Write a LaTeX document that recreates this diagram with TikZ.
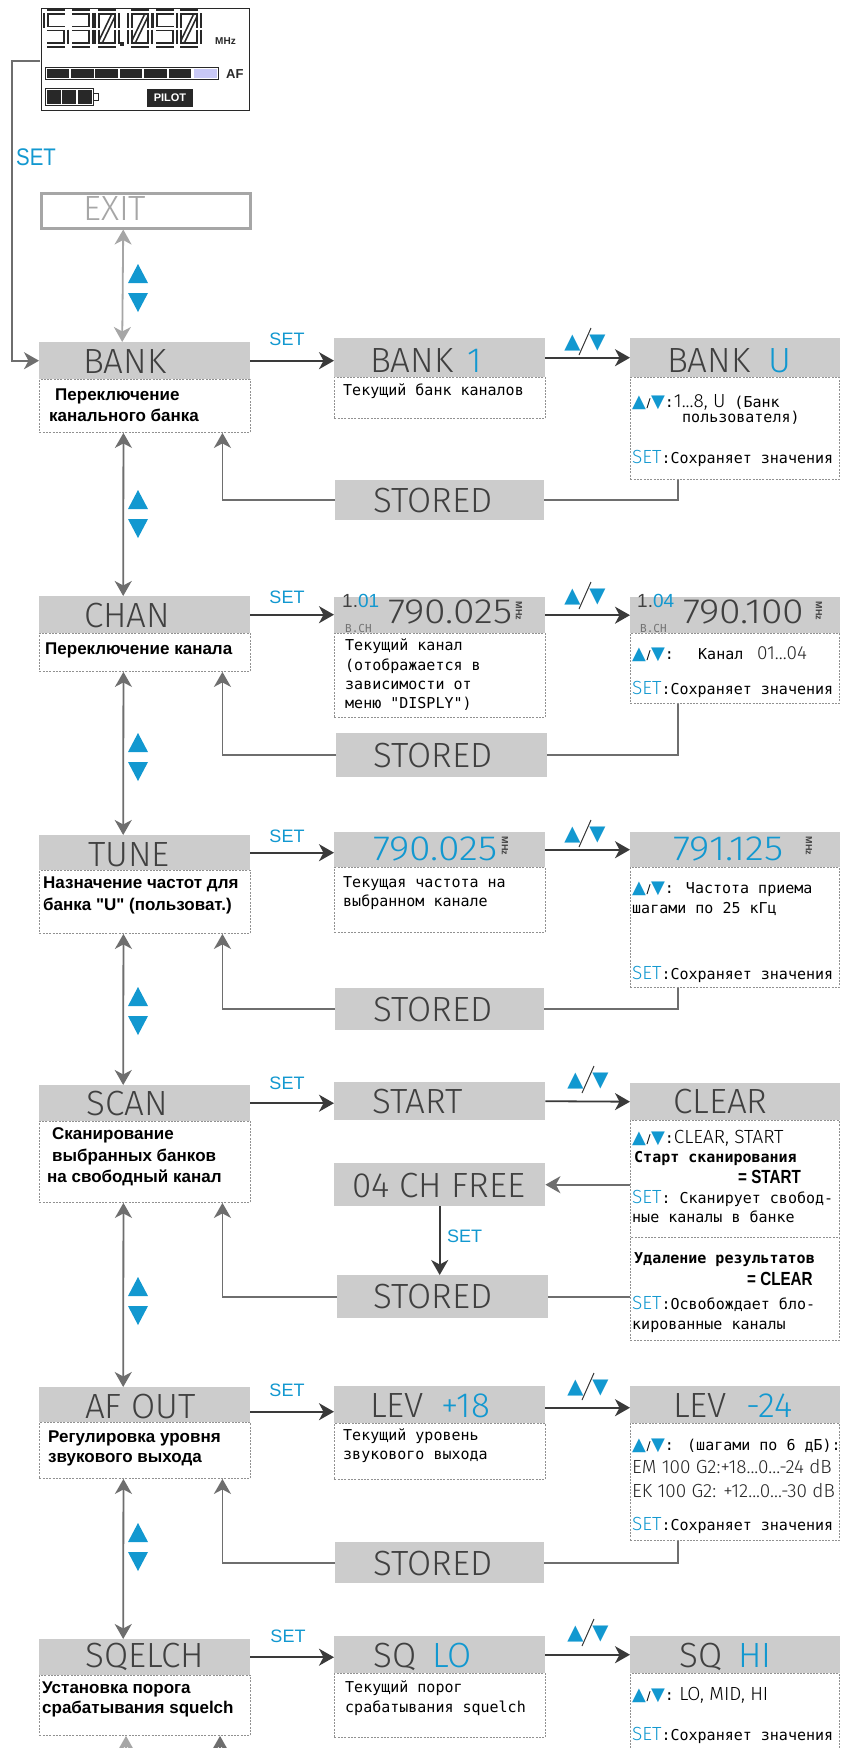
\documentclass[tikz,border=0pt]{standalone}
\usepackage{fontspec}
\setmainfont{Liberation Sans}[Ligatures=TeXOff]
\newfontfamily\mono{DejaVu Sans Mono}
\newfontfamily\dv{DejaVu Sans}
\IfFontExistsTF{FiraSans-Light.otf}{\newfontfamily\hfont{FiraSans-Light.otf}}{%
 \IfFontExistsTF{Fira Sans Light}{\newfontfamily\hfont{Fira Sans Light}}{\newfontfamily\hfont{Fira Sans}}}
\usetikzlibrary{arrows.meta}
\definecolor{hdrgray}{RGB}{204,204,204}
\definecolor{htext}{RGB}{64,64,64}
\definecolor{myblue}{RGB}{18,152,208}
\definecolor{arrgray}{RGB}{110,110,110}
\definecolor{arrdark}{RGB}{58,58,58}
\definecolor{dashgray}{RGB}{145,145,145}
\definecolor{exitgray}{RGB}{166,166,166}
\definecolor{lcdc}{RGB}{40,40,40}
\definecolor{lav}{RGB}{200,200,245}
\newcommand\UD{{\dv\fontsize{18}{18}\selectfont\textcolor{myblue}{▲}\kern0.5pt{\fontsize{12}{12}\selectfont/}\kern0.5pt\textcolor{myblue}{▼}}}
\newcommand\SETb{\textcolor{myblue}{\hfont\fontsize{19}{19}\selectfont SET}}
\newcommand\wnum[1]{\scalebox{1.12}[1]{#1}}
\newcommand\sga{\draw[seg] (1,0)--(19,0);}
\newcommand\sgb{\draw[seg] (20,1)--(20,15.5);}
\newcommand\sgc{\draw[seg] (20,17.5)--(20,32);}
\newcommand\sgd{\draw[seg] (1,33)--(19,33);}
\newcommand\sge{\draw[seg] (0,17.5)--(0,32);}
\newcommand\sgf{\draw[seg] (0,1)--(0,15.5);}
\newcommand\sgg{\draw[seg] (1,16.5)--(19,16.5);}
\newcommand\sgs{\draw[seg] (4,29)--(16,4);}
\newcommand\lcddigit[2]{\begin{scope}[shift={(#1,12)}]\foreach \s in {#2}{\csname sg\s\endcsname}\end{scope}}
\tikzset{
  >={Stealth[length=15pt,width=17pt,inset=4.5pt]},
  seg/.style={draw=lcdc, line width=1.7pt, double=white, double distance=2.2pt},
  hbox/.style={fill=hdrgray, draw=none, inner sep=0pt, anchor=north west},
  dbox/.style={draw=dashgray, dash pattern=on 2pt off 1.3pt, line width=0.9pt, fill=white, inner sep=0pt, anchor=north west},
  htxt/.style={font=\hfont\fontsize{35}{35}\selectfont, text=htext, inner sep=0pt, anchor=base west},
  ltxt/.style={font=\bfseries\fontsize{17}{17}\selectfont, text=black, inner sep=0pt, anchor=base west},
  mtxt/.style={font=\mono\fontsize{15}{15}\selectfont, text=black, inner sep=0pt, anchor=base west},
  mbtxt/.style={font=\mono\bfseries\fontsize{15}{15}\selectfont, text=black, inner sep=0pt, anchor=base west},
  ttxt/.style={font=\hfont\fontsize{19}{19}\selectfont, text=black!85, inner sep=0pt, anchor=base west},
  setlbl/.style={font=\fontsize{18}{18}\selectfont, text=myblue, inner sep=0pt, anchor=base},
  udlbl/.style={font=\dv\fontsize{21}{21}\selectfont, text=myblue, inner sep=0pt},
  mhzlbl/.style={font=\bfseries\fontsize{9}{9}\selectfont, text=htext, rotate=-90, inner sep=0pt},
  darr/.style={draw=arrdark, line width=1.8pt, ->},
  garr/.style={draw=arrgray, line width=1.8pt, ->},
  garr2/.style={draw=arrgray, line width=1.8pt, <->},
  gline/.style={draw=arrgray, line width=1.8pt},
  lgarr/.style={draw=exitgray, line width=1.8pt},
}
\begin{document}
\begin{tikzpicture}[x=1pt,y=-1pt]
\useasboundingbox (0,0) rectangle (841,1748);
\clip (0,0) rectangle (841,1748);
\fill[white] (0,0) rectangle (841,1748);

% ---------- LCD ----------
\node[draw=lcdc, line width=1.5pt, inner sep=0pt, minimum width=208pt, minimum height=102pt, anchor=north west] (lcd) at (40.75,7.75) {};
\lcddigit{46}{a,f,g,c,d}
\lcddigit{71}{a,b,g,c,d}
\lcddigit{97}{a,b,c,d,e,f,s}
\lcddigit{130}{a,b,c,d,e,f,s}
\lcddigit{155}{a,f,g,c,d}
\lcddigit{179}{a,b,c,d,e,f,s}
\fill[lcdc] (119.5,42) rectangle (123.5,46);
\node[font=\bfseries\fontsize{10}{10}\selectfont, anchor=base west, inner sep=0pt, text=lcdc] (mhz) at (215,44) {MHz};
\draw[lcdc, line width=1pt] (45,67) rectangle (218,79);
\foreach \i in {0,...,5} \fill[lcdc] ({46.5+24.4*\i},68.5) rectangle ({46.5+24.4*\i+22.6},77.5);
\fill[lav] (193.5,68.5) rectangle (216.5,77.5);
\node[font=\bfseries\fontsize{13}{13}\selectfont, anchor=base west, inner sep=0pt, text=lcdc] (afl) at (226,78) {AF};
\draw[lcdc, line width=1pt] (45,88) rectangle (93,105);
\foreach \i in {0,1,2} \fill[lcdc] ({46.5+15.7*\i},89.5) rectangle ({46.5+15.7*\i+14.2},103.5);
\draw[lcdc, line width=1pt] (93,93) rectangle (98,100);
\node[fill=lcdc, text=white, font=\bfseries\fontsize{11}{11}\selectfont, minimum width=46pt, minimum height=18pt, inner sep=0pt] (pilot) at (170,98) {PILOT};

\node[font=\fontsize{24}{24}\selectfont, text=myblue, anchor=base west, inner sep=0pt] (setbig) at (16,165) {\scalebox{0.85}[1]{SET}};

% ---------- EXIT ----------
\node[draw=exitgray, line width=2.5pt, fill=white, minimum width=209pt, minimum height=35pt, inner sep=0pt, anchor=north west] (exit) at (40,192) {};
\node[htxt, text=exitgray] (texit) at (83,220) {EXIT};

% ---------- boxes: left column ----------
\node[dbox, minimum width=211pt, minimum height=53pt] (bankD) at (39,379) {};
\node[hbox, minimum width=211pt, minimum height=37pt] (bankH) at (39,342) {};
\node[dbox, minimum width=211pt, minimum height=38pt] (chanD) at (39,633) {};
\node[hbox, minimum width=211pt, minimum height=37pt] (chanH) at (39,596) {};
\node[dbox, minimum width=211pt, minimum height=63pt] (tuneD) at (39,870) {};
\node[hbox, minimum width=211pt, minimum height=35pt] (tuneH) at (39,835) {};
\node[dbox, minimum width=211pt, minimum height=81pt] (scanD) at (39,1121) {};
\node[hbox, minimum width=211pt, minimum height=36pt] (scanH) at (39,1085) {};
\node[dbox, minimum width=211pt, minimum height=56pt] (afD) at (39,1422) {};
\node[hbox, minimum width=211pt, minimum height=35pt] (afH) at (39,1387) {};
\node[dbox, minimum width=211pt, minimum height=60pt] (sqD) at (39,1675) {};
\node[hbox, minimum width=211pt, minimum height=36pt] (sqH) at (39,1639) {};

% ---------- middle column ----------
\node[dbox, minimum width=211pt, minimum height=41pt] (b1D) at (334,377) {};
\node[hbox, minimum width=211pt, minimum height=39pt] (b1H) at (334,338) {};
\node[dbox, minimum width=211pt, minimum height=84pt] (c1D) at (334,633) {};
\node[hbox, minimum width=211pt, minimum height=36pt] (c1H) at (334,597) {};
\node[dbox, minimum width=211pt, minimum height=65pt] (t1D) at (334,867) {};
\node[hbox, minimum width=211pt, minimum height=35pt] (t1H) at (334,832) {};
\node[hbox, minimum width=211pt, minimum height=38pt] (startH) at (334,1082) {};
\node[hbox, minimum width=211pt, minimum height=43pt] (freeH) at (334,1163) {};
\node[dbox, minimum width=211pt, minimum height=56pt] (l1D) at (334,1423) {};
\node[hbox, minimum width=211pt, minimum height=37pt] (l1H) at (334,1386) {};
\node[dbox, minimum width=211pt, minimum height=64pt] (q1D) at (334,1673) {};
\node[hbox, minimum width=211pt, minimum height=37pt] (q1H) at (334,1636) {};

% ---------- right column ----------
\node[dbox, minimum width=209pt, minimum height=102pt] (b2D) at (630,377) {};
\node[hbox, minimum width=210pt, minimum height=39pt] (b2H) at (630,338) {};
\node[dbox, minimum width=209pt, minimum height=70pt] (c2D) at (630,633) {};
\node[hbox, minimum width=210pt, minimum height=36pt] (c2H) at (630,597) {};
\node[dbox, minimum width=209pt, minimum height=120pt] (t2D) at (630,867) {};
\node[hbox, minimum width=210pt, minimum height=35pt] (t2H) at (630,832) {};
\node[dbox, minimum width=209pt, minimum height=117pt] (clD1) at (630,1120) {};
\node[dbox, minimum width=209pt, minimum height=103pt] (clD2) at (630,1237) {};
\node[hbox, minimum width=210pt, minimum height=37pt] (clH) at (630,1083) {};
\node[dbox, minimum width=209pt, minimum height=117pt] (l2D) at (630,1423) {};
\node[hbox, minimum width=210pt, minimum height=37pt] (l2H) at (630,1386) {};
\node[dbox, minimum width=209pt, minimum height=100pt] (q2D) at (630,1673) {};
\node[hbox, minimum width=210pt, minimum height=37pt] (q2H) at (630,1636) {};

% ---------- STORED ----------
\node[hbox, minimum width=209pt, minimum height=40pt] (st1) at (335,480) {};
\node[hbox, minimum width=211pt, minimum height=44pt] (st2) at (336,733) {};
\node[hbox, minimum width=209pt, minimum height=42pt] (st3) at (335,988) {};
\node[hbox, minimum width=211pt, minimum height=43pt] (st4) at (337,1275) {};
\node[hbox, minimum width=209pt, minimum height=41pt] (st5) at (335,1542) {};
\node[htxt] (ts1) at (373,512) {STORED};
\node[htxt] (ts2) at (373,767) {STORED};
\node[htxt] (ts3) at (373,1021) {STORED};
\node[htxt] (ts4) at (373,1308) {STORED};
\node[htxt] (ts5) at (373,1575) {STORED};

% ---------- header texts ----------
\node[htxt] (tBank) at (83,373) {BANK};
\node[htxt] (tB1) at (370,372) {BANK\hspace{14pt}\textcolor{myblue}{1}};
\node[htxt] (tBU) at (667,372) {BANK\hspace{18pt}\textcolor{myblue}{U}};
\node[htxt] (tChan) at (84,627) {CHAN};
\node[font=\fontsize{19}{19}\selectfont, text=htext, anchor=base west, inner sep=0pt] (tc1n) at (342,607) {1.\textcolor{myblue}{01}};
\node[font=\mono\fontsize{11}{11}\selectfont, text=black!55, anchor=base west, inner sep=0pt] (tc1b) at (345,632) {B.CH};
\node[htxt] (tc1) at (388,623) {\wnum{790.025}};
\node[mhzlbl] (tc1m) at (519,611) {MHz};
\node[font=\fontsize{19}{19}\selectfont, text=htext, anchor=base west, inner sep=0pt] (tc2n) at (637,607) {1.\textcolor{myblue}{04}};
\node[font=\mono\fontsize{11}{11}\selectfont, text=black!55, anchor=base west, inner sep=0pt] (tc2b) at (640,632) {B.CH};
\node[htxt] (tc2) at (683,623) {\wnum{790.100}};
\node[mhzlbl] (tc2m) at (819,611) {MHz};
\node[htxt] (tTune) at (88,866) {TUNE};
\node[htxt, text=myblue] (tT1) at (373,860) {\wnum{790.025}};
\node[mhzlbl] (tt1m) at (505,846) {MHz};
\node[htxt, text=myblue] (tT2) at (673,860) {\wnum{791.125}};
\node[mhzlbl] (tt2m) at (809,846) {MHz};
\node[htxt] (tScan) at (86,1115) {SCAN};
\node[htxt] (tStart) at (372,1113) {START};
\node[htxt] (tClear) at (673,1113) {CLEAR};
\node[htxt] (tFree) at (352,1197) {04 CH FREE};
\node[htxt] (tAf) at (85,1418) {AF OUT};
\node[htxt] (tL1) at (370,1417) {LEV\hspace{18pt}\textcolor{myblue}{+18}};
\node[htxt] (tL2) at (673,1417) {LEV\hspace{20pt}\textcolor{myblue}{-24}};
\node[htxt] (tSq) at (85,1667) {SQELCH};
\node[htxt] (tQ1) at (373,1667) {SQ\hspace{16pt}\textcolor{myblue}{LO}};
\node[htxt] (tQ2) at (679,1667) {SQ\hspace{16pt}\textcolor{myblue}{HI}};

% ---------- left descriptions ----------
\node[ltxt] (d1a) at (55,400) {Переключение};
\node[ltxt] (d1b) at (49,421) {канального банка};
\node[ltxt] (d2a) at (45,654) {Переключение канала};
\node[ltxt] (d3a) at (43,888) {Назначение частот для};
\node[ltxt] (d3b) at (43,910) {банка "U" (пользоват.)};
\node[ltxt] (d4a) at (52,1139) {Сканирование};
\node[ltxt] (d4b) at (52,1161) {выбранных банков};
\node[ltxt] (d4c) at (47,1182) {на свободный канал};
\node[ltxt] (d5a) at (48,1442) {Регулировка уровня};
\node[ltxt] (d5b) at (48,1462) {звукового выхода};
\node[ltxt] (d6a) at (42,1693) {Установка порога};
\node[ltxt] (d6b) at (42,1713) {срабатывания squelch};

% ---------- middle descriptions ----------
\node[mtxt] (m1a) at (343,395) {Текущий банк каналов};
\node[mtxt] (m2a) at (345,650) {Текущий канал};
\node[mtxt] (m2b) at (345,670) {(отображается в};
\node[mtxt] (m2c) at (345,689) {зависимости от};
\node[mtxt] (m2d) at (345,708) {меню "DISPLY")};
\node[mtxt] (m3a) at (343,887) {Текущая частота на};
\node[mtxt] (m3b) at (343,906) {выбранном канале};
\node[mtxt] (m5a) at (343,1440) {Текущий уровень};
\node[mtxt] (m5b) at (343,1459) {звукового выхода};
\node[mtxt] (m6a) at (345,1692) {Текущий порог};
\node[mtxt] (m6b) at (345,1712) {срабатывания squelch};

% ---------- right descriptions ----------
\node[mtxt] (r1a) at (632,407) {\UD:{\hfont\fontsize{19}{19}\selectfont 1...8, U} (Банк};
\node[mtxt] (r1b) at (682,422) {пользователя)};
\node[mtxt] (r1c) at (632,463) {\SETb:Сохраняет значения};
\node[mtxt] (r2a) at (632,659) {\UD:};
\node[mtxt] (r2b) at (698,659) {Канал};
\node[ttxt] (r2c) at (757,659) {01...04};
\node[mtxt] (r2d) at (632,694) {\SETb:Сохраняет значения};
\node[mtxt] (r3a) at (632,893) {\UD: Частота приема};
\node[mtxt] (r3b) at (632,913) {шагами по 25 кГц};
\node[mtxt] (r3c) at (632,979) {\SETb:Сохраняет значения};
\node[mtxt] (r4a) at (632,1143) {\UD:{\hfont\fontsize{19}{19}\selectfont CLEAR, START}};
\node[mbtxt] (r4b) at (634,1162) {Старт сканирования};
\node[font=\bfseries\fontsize{19}{19}\selectfont, inner sep=0pt, anchor=base west] (r4c) at (738,1183) {\scalebox{0.8}[1]{= START}};
\node[mtxt] (r4d) at (632,1203) {\SETb: Сканирует свобод-};
\node[mtxt] (r4e) at (632,1222) {ные каналы в банке};
\node[mbtxt] (r4f) at (634,1263) {Удаление результатов};
\node[font=\bfseries\fontsize{19}{19}\selectfont, inner sep=0pt, anchor=base west] (r4g) at (747,1285) {\scalebox{0.8}[1]{= CLEAR}};
\node[mtxt] (r4h) at (632,1309) {\SETb:Освобождает бло-};
\node[mtxt] (r4i) at (632,1329) {кированные каналы};
\node[mtxt] (r5a) at (632,1450) {\UD:};
\node[mtxt] (r5b) at (687,1450) {(шагами по 6 дБ):};
\node[ttxt] (r5c) at (632,1473) {EM 100 G2:+18...0...-24 dB};
\node[ttxt] (r5d) at (632,1497) {EK 100 G2: +12...0...-30 dB};
\node[mtxt] (r5e) at (632,1530) {\SETb:Сохраняет значения};
\node[mtxt] (r6a) at (632,1700) {\UD:{\hfont\fontsize{19}{19}\selectfont\ LO, MID, HI}};
\node[mtxt] (r6b) at (632,1740) {\SETb:Сохраняет значения};

% ---------- connectors ----------
\coordinate (lcdL) at (40,61);
\coordinate (fbc) at (12,61);
\draw[garr] (lcdL) -- (fbc) |- (bankH.west);
\draw[lgarr, <->] ([xshift=-22.5pt]exit.south) -- ([xshift=-22.5pt]bankH.north);

\foreach \a/\b in {bankD/chanH, chanD/tuneH, tuneD/scanH, scanD/afH, afD/sqH}
  \draw[garr2] ([xshift=-21.5pt]\a.south) -- ([xshift=-21.5pt]\b.north);

% SET arrows
\draw[darr] (bankH.east) -- (bankH.east -| b1H.west);
\draw[darr] (chanH.east) -- (chanH.east -| c1H.west);
\draw[darr] (tuneH.east) -- (tuneH.east -| t1H.west);
\draw[darr] (scanH.east) -- (scanH.east -| startH.west);
\draw[darr] ([yshift=-7pt]afH.east) -- ([yshift=-7pt]afH.east -| l1H.west);
\draw[darr] (sqH.east) -- (sqH.east -| q1H.west);
\node[setlbl] (s1) at (287,345) {SET};
\node[setlbl] (s2) at (287,603) {SET};
\node[setlbl] (s3) at (287,842) {SET};
\node[setlbl] (s4) at (287,1089) {SET};
\node[setlbl] (s5) at (287,1396) {SET};
\node[setlbl] (s6) at (288,1642) {SET};

% up/down arrows
\draw[darr] (b1H.east) -- (b2H.west);
\draw[darr] (c1H.east) -- (c2H.west);
\draw[darr] (t1H.east) -- (t2H.west);
\draw[darr] (startH.east) -- (clH.west);
\draw[darr] ([yshift=-3pt]l1H.east) -- ([yshift=-3pt]l2H.west);
\draw[darr] (q1H.east) -- (q2H.west);
\foreach \n/\cx/\cy in {u1/585/343, u2/585/597, u3/585/835, u4/588/1081, u5/588/1388, u6/588/1634}{
  \node[udlbl] (\n) at (\cx,\cy) {▲\hspace{9pt}▼};
  \draw[arrdark, line width=1pt] ([shift={(-6,12)}]\n.center) -- ([shift={(6,-15)}]\n.center);
}

% STORED loops
\draw[gline] ([xshift=-57pt]b2D.south) |- (st1.east);
\draw[garr] (st1.west) -| ([xshift=77.5pt]bankD.south);
\draw[gline] ([xshift=-57pt]c2D.south) |- (st2.east);
\draw[garr] (st2.west) -| ([xshift=77.5pt]chanD.south);
\draw[gline] ([xshift=-57pt]t2D.south) |- (st3.east);
\draw[garr] (st3.west) -| ([xshift=77.5pt]tuneD.south);
\draw[gline] (clD2.west |- st4.east) -- (st4.east);
\draw[garr] (st4.west) -| ([xshift=77.5pt]scanD.south);
\draw[gline] ([xshift=-57pt]l2D.south) |- (st5.east);
\draw[garr] (st5.west) -| ([xshift=77.5pt]afD.south);

% SCAN extras
\draw[garr] (clD1.west |- freeH.east) -- (freeH.east);
\draw[darr] (freeH.south) -- (freeH.south |- st4.north);
\node[setlbl, anchor=base west] (s7) at (447,1242) {SET};

% bottom arrows
\coordinate (bl1) at (126,1775);
\coordinate (bl2) at (220,1775);
\draw[lgarr, ->] (bl1) -- (bl1 |- sqD.south);
\draw[garr] (bl2) -- (bl2 |- sqD.south);

% blue triangles between rows
\foreach \t in {264,490,733,987,1277,1523}{
  \fill[myblue] (128,{\t+19}) -- (148,{\t+19}) -- (138,\t) -- cycle;
  \fill[myblue] (128,{\t+29}) -- (148,{\t+29}) -- (138,{\t+48}) -- cycle;
}
\end{tikzpicture}
\end{document}
